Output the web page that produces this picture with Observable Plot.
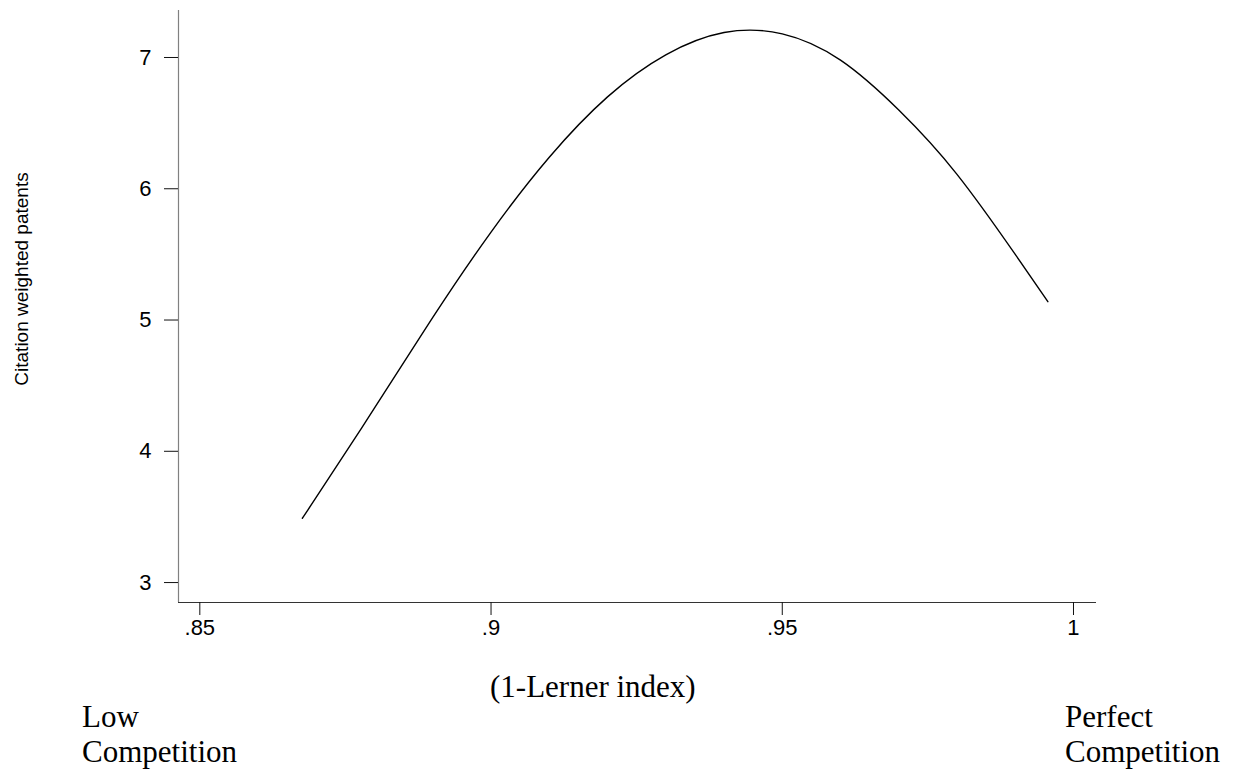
<!DOCTYPE html>
<html>
<head>
<meta charset="utf-8">
<script src="https://cdn.jsdelivr.net/npm/d3@7"></script>
<script src="https://cdn.jsdelivr.net/npm/@observablehq/plot@0.6"></script>
<style>
  html, body { margin: 0; padding: 0; background: #fff; }
  #wrap { position: relative; width: 1237px; height: 774px; overflow: hidden; }
  .note { position: absolute; font-family: "Liberation Serif", "Times New Roman", serif; font-size: 31px; line-height: 35px; color: #000; white-space: nowrap; }
</style>
</head>
<body>
<div id="wrap">
  <div id="chart"></div>
  <div class="note" style="left:490px; top:669px;">(1-Lerner index)</div>
  <div class="note" style="left:82px; top:699px;">Low<br>Competition</div>
  <div class="note" style="left:1065px; top:699px;">Perfect<br>Competition</div>
</div>
<script>
// Data
const lerner    = [0.8676, 0.87, 0.88, 0.89, 0.90, 0.91, 0.92, 0.93, 0.94, 0.95, 0.96, 0.97, 0.98, 0.99, 0.9956];
const citations = [3.49,   3.65, 4.33, 5.02, 5.67, 6.24, 6.70, 7.02, 7.19, 7.18, 6.98, 6.60, 6.11, 5.50, 5.14];

const xTicks = [0.85, 0.9, 0.95, 1];
const yTicks = [3, 4, 5, 6, 7];
const xDomain = [0.84634, 1.00395];
const yDomain = [2.848, 7.358];
const yLabel = "Citation weighted patents";

const data = lerner.map((x, i) => ({x, y: citations[i]}));
const fmt = d => String(d).replace(/^0\./, ".");

const chart = Plot.plot({
  width: 1237,
  height: 650,
  marginLeft: 178,
  marginRight: 141,
  marginTop: 10,
  marginBottom: 48,
  style: {fontFamily: "'Liberation Sans', Arial, sans-serif", fontSize: "22px", background: "#fff", color: "#000"},
  x: {domain: xDomain},
  y: {domain: yDomain},
  marks: [
    Plot.ruleX(xDomain.slice(0, 1), {stroke: "#808080", strokeWidth: 1.2}),
    Plot.ruleY(yDomain.slice(0, 1), {stroke: "#333", strokeWidth: 1.2}),
    Plot.axisX({ticks: xTicks, tickFormat: fmt, tickSize: 13, tickPadding: 4, label: null, fontSize: 22, stroke: "#111"}),
    Plot.axisY({ticks: yTicks, tickFormat: d => String(d), tickSize: 14, tickPadding: 13, label: null, fontSize: 22, stroke: "#111"}),
    Plot.line(data, {x: "x", y: "y", curve: "natural", stroke: "#000", strokeWidth: 1.4}),
    Plot.text([yLabel], {frameAnchor: "left", textAnchor: "middle", dx: -157, dy: -27.5, rotate: -90, fontSize: 19, fill: "#000"})
  ]
});
document.getElementById("chart").appendChild(chart);
</script>
</body>
</html>
